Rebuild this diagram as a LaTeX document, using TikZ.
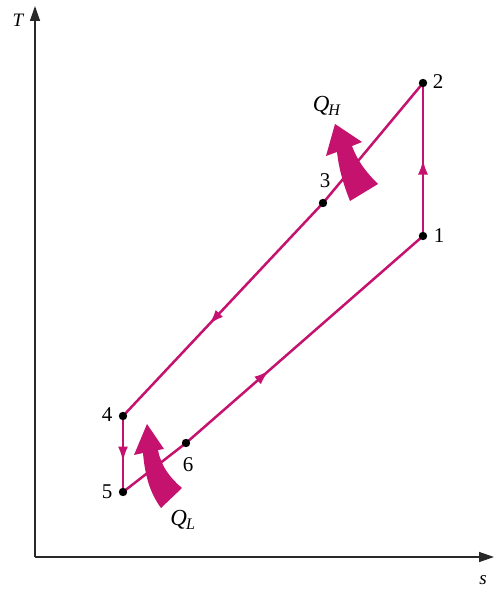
\documentclass[tikz,border=0pt]{standalone}
\usepackage{fontspec}
\setmainfont{Liberation Serif}
\usetikzlibrary{arrows.meta,decorations.markings}
\definecolor{cyc}{RGB}{196,18,110}
\definecolor{axc}{RGB}{40,40,40}
\begin{document}
\begin{tikzpicture}[x=1pt,y=-1pt,
  axis/.style={draw=axc,line width=1.4pt,-{Triangle[length=15pt,width=10pt]}},
  proc/.style={draw=cyc,line width=2.5pt,line join=round},
  midarrow/.style={postaction={decorate,decoration={markings,
      mark=at position #1 with {\arrow{Latex[length=15pt,width=10pt]}}}}},
  dot/.style={fill=black},
  lbl/.style={inner sep=0pt,font=\fontsize{21}{24}\selectfont},
  qlbl/.style={inner sep=0pt,font=\fontsize{23}{26}\selectfont},
  axlbl/.style={inner sep=0pt,font=\fontsize{19}{22}\selectfont\itshape},
  heat/.style={fill=cyc}]
\useasboundingbox (0,0) rectangle (499,591);
% axes
\coordinate (O) at (35,557);
\coordinate (Ttop) at (35,6);
\coordinate (Send) at (494,557);
\draw[axis] (O) -- (Ttop);
\draw[axis] (O) -- (Send);
\node[axlbl] (Tl) at (18,20) {T};
\node[axlbl] (Sl) at (483,580) {s};
% states
\coordinate (p1) at (423,236);
\coordinate (p2) at (423,83);
\coordinate (p3) at (323,203);
\coordinate (p4) at (123,416);
\coordinate (p5) at (123,492);
\coordinate (p6) at (186,443);
% processes
\draw[proc,midarrow=0.5] (p1) -- (p2);
\draw[proc] (p2) -- (p3);
\draw[proc,midarrow=0.57] (p3) -- (p4);
\draw[proc,midarrow=0.6] (p4) -- (p5);
\draw[proc] (p5) -- (p6);
\draw[proc,midarrow=0.35] (p6) -- (p1);
% dots
\foreach \p in {p1,p2,p3,p4,p5,p6} \fill[dot] (\p) circle (4.2);
% labels
\node[lbl] (l1) at (439,236) {1};
\node[lbl] (l2) at (438,82) {2};
\node[lbl] (l3) at (325,181) {3};
\node[lbl] (l4) at (107,415) {4};
\node[lbl] (l5) at (107,492) {5};
\node[lbl] (l6) at (188,465) {6};
\node[qlbl] (qh) at (327,106) {\textit{Q}\textsubscript{\kern-1pt\textit{H}}};
\node[qlbl] (ql) at (183,520) {\textit{Q}\textsubscript{\kern-1pt\textit{L}}};
% heat arrows
\fill[heat] (350,201) .. controls (344,186) and (339,170) .. (337,152)
  -- (326,156) -- (335,124) -- (362,142) -- (352,146)
  .. controls (358,162) and (366,172) .. (378,184) -- cycle;
\fill[heat] (161,508) .. controls (150,493) and (145,476) .. (143,453)
  -- (134,455) -- (147,424) -- (164,449) -- (158,450)
  .. controls (161,466) and (170,478) .. (182,488) -- cycle;
\end{tikzpicture}
\end{document}
